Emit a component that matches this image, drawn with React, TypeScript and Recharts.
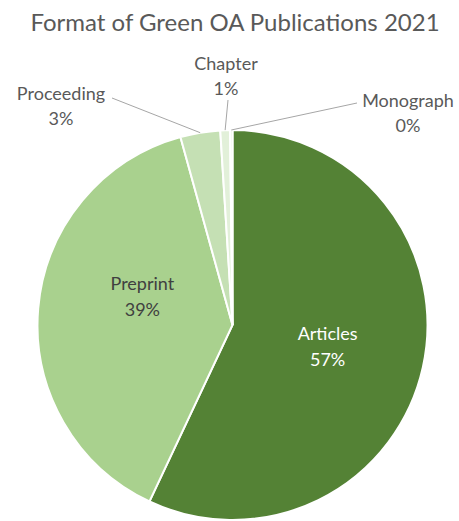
import React from 'react';
import { PieChart, Pie, Cell } from 'recharts';

const categories = ['Articles', 'Preprint', 'Proceeding', 'Chapter', 'Monograph'];
const shares = [57.0, 38.7, 3.3, 0.8, 0.2];
const colors = ['#548235', '#a9d18e', '#c5e0b4', '#e2f0d9', '#e2f0d9'];

const data = categories.map((name, i) => ({ name, value: shares[i] }));

const FONT = 'Lato, sans-serif';
const RAD = Math.PI / 180;
const LABEL_SIZE = 18;

// label placement config (style, not data)
const labelStyle: Record<string, any> = {
  Articles: { inside: true, r: 0.5, dx: 0, dy: 0, fill: '#ffffff' },
  Preprint: { inside: true, r: 0.5, dx: 7, dy: -21, fill: '#404040' },
  Proceeding: { inside: false, elbow: [112, 98], tx: 61, ty: 93, fill: '#595959' },
  Chapter: { inside: false, elbow: [228, 100], tx: 226, ty: 63, fill: '#595959' },
  Monograph: { inside: false, elbow: [357, 103], tx: 408, ty: 100, fill: '#595959' },
};

const renderLabel = (props: any) => {
  const { cx, cy, midAngle, outerRadius, percent, name } = props;
  const st = labelStyle[name];
  const pct = `${Math.round(percent * 100)}%`;
  const cos = Math.cos(-midAngle * RAD);
  const sin = Math.sin(-midAngle * RAD);
  if (st.inside) {
    const x = cx + outerRadius * st.r * cos + st.dx;
    const y = cy + outerRadius * st.r * sin + st.dy;
    return (
      <g>
        <text x={x} y={y - 13} textAnchor="middle" dominantBaseline="central" fill={st.fill} fontFamily={FONT} fontSize={LABEL_SIZE}>
          {name}
        </text>
        <text x={x} y={y + 13} textAnchor="middle" dominantBaseline="central" fill={st.fill} fontFamily={FONT} fontSize={LABEL_SIZE}>
          {pct}
        </text>
      </g>
    );
  }
  const ex = cx + outerRadius * cos;
  const ey = cy + outerRadius * sin;
  const [bx, by] = st.elbow;
  return (
    <g>
      <polyline points={`${ex},${ey} ${bx},${by}`} fill="none" stroke="#a6a6a6" strokeWidth={1} />
      <text x={st.tx} y={st.ty} textAnchor="middle" dominantBaseline="central" fill={st.fill} fontFamily={FONT} fontSize={LABEL_SIZE}>
        {name}
      </text>
      <text x={st.tx} y={st.ty + 25} textAnchor="middle" dominantBaseline="central" fill={st.fill} fontFamily={FONT} fontSize={LABEL_SIZE}>
        {pct}
      </text>
    </g>
  );
};

export default function App() {
  return (
    <div style={{ position: 'absolute', left: 0, top: 0, width: 459, height: 521, background: '#ffffff' }}>
      <PieChart width={459} height={521} margin={{ top: 0, right: 0, bottom: 0, left: 0 }}>
        <text x={235} y={21} textAnchor="middle" dominantBaseline="central" fill="#595959" fontFamily={FONT} fontSize={24}>
          Format of Green OA Publications 2021
        </text>
        <Pie
          data={data}
          dataKey="value"
          nameKey="name"
          cx={232.5}
          cy={325}
          outerRadius={195}
          startAngle={90}
          endAngle={-270}
          stroke="#ffffff"
          strokeWidth={2}
          label={renderLabel}
          labelLine={false}
          isAnimationActive={false}
        >
          {data.map((d, i) => (
            <Cell key={d.name} fill={colors[i]} />
          ))}
        </Pie>
      </PieChart>
    </div>
  );
}
